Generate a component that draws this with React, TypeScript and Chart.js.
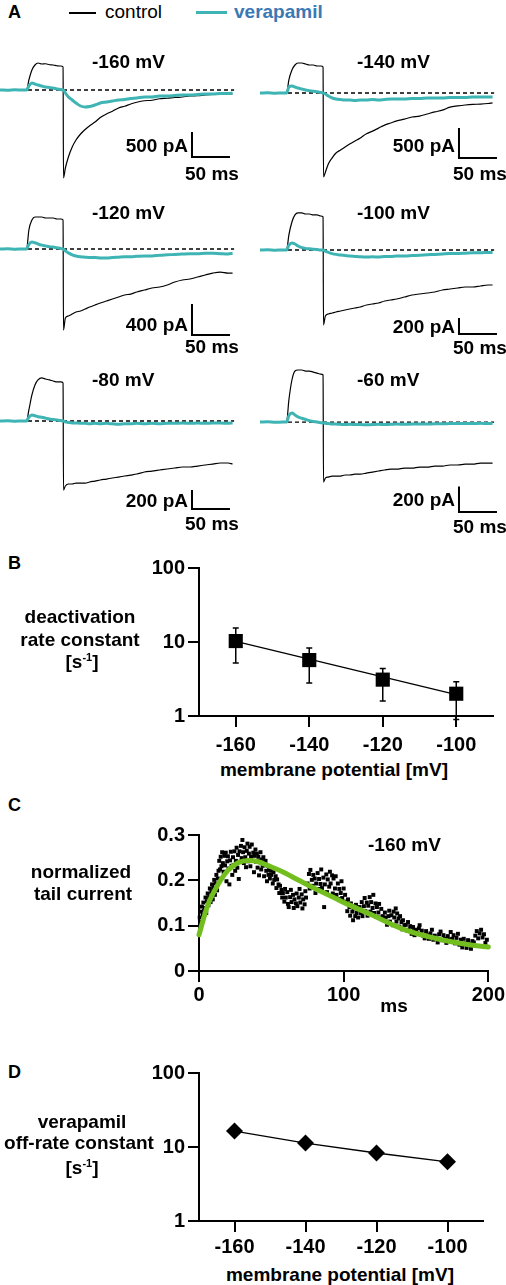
import React, { useEffect, useRef } from "react";
import { Chart, registerables } from "chart.js";

Chart.register(...registerables);

const FONT = "'Liberation Sans', Arial, Helvetica, sans-serif";
Chart.defaults.font.family = FONT;
const PAGE_W = 506;
const BLACK = "#000000";
const TEAL = "#3fb4b4";
const GREEN = "#72be1e";
const BLUE = "#3b78b4";
const TEXT_SIZE = 19;

// ---------------- Panel A : current traces (time in ms, current in pA) ----------------
const traceTime = [0, 10, 20, 30, 35, 38, 42, 46, 50, 55, 60, 65, 70, 75, 80, 83, 83.5, 86, 90, 95, 100, 106, 112, 118, 125, 132, 140, 148, 156, 164, 172, 180, 190, 200, 210, 220, 230, 240, 250, 260, 270, 280, 290, 300, 306];

const ctrl160 = [0, 6, -4, 3, 0, 200, 400, 500, 540, 520, 525, 505, 500, 485, 480, 460, -1760, -1560, -1340, -1140, -1000, -880, -790, -715, -640, -550, -480, -425, -360, -325, -280, -245, -215, -205, -175, -165, -150, -140, -120, -115, -100, -90, -85, -80, -80];
const vera160 = [0, -5, 4, 0, 0, 80, 140, 120, 100, 80, 60, 50, 40, 20, 10, 0, 0, -60, -140, -200, -260, -320, -340, -330, -300, -260, -240, -220, -200, -190, -170, -160, -140, -140, -120, -120, -110, -100, -100, -90, -80, -80, -70, -70, -60];
const ctrl140 = [0, 5, -3, 2, 0, 217, 383, 467, 500, 500, 483, 467, 467, 450, 450, 433, -1400, -1320, -1180, -1080, -1000, -950, -900, -850, -800, -750, -680, -635, -585, -535, -500, -465, -435, -400, -385, -350, -315, -285, -235, -215, -200, -190, -185, -175, -165];
const vera140 = [0, 4, -3, 0, 0, 100, 117, 100, 83, 67, 50, 40, 30, 20, 10, 0, 0, -17, -50, -83, -100, -110, -117, -117, -125, -117, -117, -108, -117, -108, -100, -100, -100, -92, -92, -83, -83, -83, -75, -75, -75, -67, -67, -67, -67];
const ctrl120 = [0, 4, -3, 2, 0, 245, 374, 413, 413, 413, 400, 400, 400, 387, 387, 374, -1045, -890, -864, -839, -813, -800, -774, -748, -722, -697, -671, -645, -619, -593, -581, -555, -529, -503, -490, -464, -426, -400, -387, -361, -335, -310, -297, -310, -310];
const vera120 = [0, 3, -3, 0, 0, 60, 90, 80, 65, 50, 40, 30, 25, 15, 8, 0, 0, -25, -50, -75, -90, -100, -105, -110, -110, -115, -116, -110, -105, -100, -100, -95, -90, -90, -80, -75, -70, -65, -60, -60, -55, -55, -60, -65, -55];
const ctrl100 = [0, 3, -2, 2, 0, 188, 350, 438, 463, 463, 450, 450, 438, 438, 425, 413, -938, -825, -800, -788, -775, -763, -750, -738, -725, -713, -688, -675, -663, -638, -625, -613, -588, -563, -550, -538, -525, -500, -488, -475, -463, -463, -450, -438, -438];
const vera100 = [0, 3, -2, 0, 0, 60, 88, 75, 50, 30, 20, 15, 10, 5, 0, 0, 0, -15, -30, -45, -55, -63, -70, -75, -80, -85, -88, -85, -88, -80, -80, -75, -75, -70, -65, -60, -55, -50, -45, -45, -40, -35, -35, -30, -30];
const ctrl80 = [0, 3, -2, 2, 0, 116, 274, 379, 432, 453, 442, 432, 421, 411, 411, 400, -727, -684, -663, -663, -653, -653, -653, -642, -632, -621, -611, -600, -590, -579, -569, -558, -537, -527, -516, -505, -495, -484, -484, -474, -463, -453, -442, -442, -453];
const vera80 = [0, 2, -2, 0, 0, 40, 63, 55, 45, 40, 30, 20, 15, 10, 5, 0, 0, -10, -15, -20, -20, -25, -25, -30, -25, -30, -25, -30, -35, -30, -30, -25, -30, -25, -30, -25, -25, -20, -25, -20, -25, -20, -20, -25, -20];
const ctrl60 = [0, 2, -2, 1, 0, 172, 328, 398, 406, 406, 398, 398, 390, 382, 374, 367, -468, -437, -429, -421, -421, -421, -413, -413, -406, -406, -398, -390, -382, -374, -367, -367, -359, -359, -351, -351, -343, -343, -335, -335, -328, -328, -320, -320, -320];
const vera60 = [0, 2, -2, 0, 0, 50, 70, 55, 40, 30, 20, 10, 5, 0, -5, -5, -5, -10, -12, -15, -15, -18, -20, -18, -20, -20, -22, -20, -18, -20, -18, -16, -18, -15, -15, -15, -14, -14, -12, -12, -12, -12, -10, -12, -10];

const stepVoltages = ["-160 mV", "-140 mV", "-120 mV", "-100 mV", "-80 mV", "-60 mV"];
const controlTraces = [ctrl160, ctrl140, ctrl120, ctrl100, ctrl80, ctrl60];
const verapamilTraces = [vera160, vera140, vera120, vera100, vera80, vera60];
const scaleBarCurrent = [500, 500, 400, 200, 200, 200];
const scaleBarTime = 50;
const baselineEnd = 308;

// layout of panel A (canvas boxes, axis ranges, scale-bar anchors, label spots)
const traceLayout = [
  { left: 0, top: 50, height: 140, yMin: -2000, yMax: 800, barT: 252.6, barI: -1340, vX: 92, vY: 60.5, pX: 188, pY: 145, mX: 185, mY: 172.5 },
  { left: 260, top: 50, height: 140, yMin: -1617, yMax: 717, barT: 261.8, barI: -1083, vX: 357, vY: 60.5, pX: 455, pY: 145, mX: 453, mY: 172.5 },
  { left: 0, top: 200, height: 145, yMin: -1238, yMax: 632, barT: 252.6, barI: -1109, vX: 92, vY: 211.5, pX: 188, pY: 323.5, mX: 185, mY: 345.5 },
  { left: 260, top: 200, height: 145, yMin: -1188, yMax: 625, barT: 261.8, barI: -1050, vX: 357, vY: 211.5, pX: 455, pY: 326, mX: 453, mY: 346.5 },
  { left: 0, top: 360, height: 160, yMin: -1042, yMax: 642, barT: 252.6, barI: -927, vX: 92, vY: 379, pX: 188, pY: 500, mX: 185, mY: 522.5 },
  { left: 260, top: 350, height: 170, yMin: -764, yMax: 562, barT: 261.8, barI: -702, vX: 357, vY: 379, pX: 455, pY: 498.5, mX: 453, mY: 525.5 },
];
const TRACE_W = 242;
const TRACE_TMAX = 318.4;

// ---------------- Panel B ----------------
const bPotential = [-160, -140, -120, -100];
const bRate = [10.3, 5.7, 3.1, 2.0];
const bErrHigh = [15.5, 8.3, 4.4, 2.9];
const bErrLow = [5.2, 2.8, 1.6, 0.9];
const bFitPotential = [-160, -100];
const bFitRate = [10.2, 1.95];

// ---------------- Panel C ----------------
const cTime = [
  0.5, 1, 1.5, 2, 2.5, 3, 3.5, 4, 4.5, 5, 5.5, 6, 6.5, 7, 7.5, 8, 8.5, 9, 9.5, 10, 10.5, 11, 11.5, 12, 12.5, 13, 13.5,
  14, 14.5, 15, 15.5, 16, 16.5, 17, 17.5, 18, 18.5, 19, 19.5, 20, 20.5, 21, 21.5, 22, 22.5,
  23, 23.5, 24, 24.5, 25, 25.5, 26, 26.5, 27, 27.5, 28, 28.5, 29, 29.5, 30, 30.5, 31, 31.5, 32, 32.5, 33, 33.5, 34, 34.5, 35, 35.5, 36, 36.5, 37, 37.5, 38, 38.5,
  39, 39.5, 40, 40.5, 41, 41.5, 42, 42.5, 43, 43.5, 44, 44.5, 45, 45.5, 46, 46.5, 47, 47.5, 48, 48.5,
  49, 49.5, 50, 51, 51.5, 52, 53, 53.5, 54, 55, 55.5, 56, 57, 57.5,
  58, 59, 59.5, 60, 61, 61.5, 62, 63, 63.5, 64, 65, 65.5, 66, 67, 67.5, 68, 69, 69.5, 70, 71, 71.5, 72, 73, 73.5,
  74, 75, 76, 76.5, 77, 78, 78.5, 79, 80, 80.5, 81, 82, 82.5, 83, 84, 84.5, 85, 86, 86.5, 87, 88, 88.5, 89, 90, 90.5, 91, 92, 92.5, 93, 94, 94.5, 95, 96, 96.5, 97, 98, 98.5, 99, 100, 100.5,
  101, 102, 102.5, 103, 104, 104.5, 105, 106, 106.5, 107, 108, 108.5, 109, 110,
  111, 112, 112.5, 113, 114, 114.5, 115, 116, 116.5, 117, 118, 118.5, 119, 120, 120.5, 121, 122, 122.5, 123, 124, 124.5, 125, 126,
  127, 128, 128.5, 129, 130, 131, 131.5, 132, 133, 134, 134.5, 135, 136, 136.5, 137, 138, 138.5, 139, 140, 140.5, 141, 142,
  143, 144, 144.5, 145, 146, 147, 148, 148.5, 149, 150, 151, 152, 152.5, 153, 154, 155, 156,
  157, 158, 159, 160, 161, 162, 163, 164, 165, 166, 167, 168, 169, 170, 171, 172, 173, 174,
  175, 176, 177, 178, 179, 180, 181, 182, 183, 184, 185, 186, 187, 188, 189, 190, 191, 192, 193, 194, 195, 196, 197, 198, 199,
];
const cValue = [
  0.118, 0.131, 0.108, 0.142, 0.124, 0.151, 0.133, 0.139, 0.162, 0.128, 0.154, 0.171, 0.145, 0.163, 0.182, 0.152, 0.174, 0.191, 0.158, 0.183, 0.201, 0.168, 0.193, 0.212, 0.178, 0.204, 0.221,
  0.243, 0.224, 0.252, 0.231, 0.262, 0.238, 0.219, 0.254, 0.233, 0.261, 0.198, 0.242, 0.253, 0.226, 0.191, 0.244, 0.263, 0.232,
  0.212, 0.251, 0.234, 0.264, 0.221, 0.243, 0.272, 0.228, 0.256, 0.203, 0.264, 0.241, 0.276, 0.249, 0.289, 0.262, 0.238, 0.273, 0.251, 0.229, 0.265, 0.281, 0.242, 0.259, 0.274, 0.231, 0.252, 0.279, 0.243, 0.261, 0.218, 0.254,
  0.268, 0.241, 0.259, 0.228, 0.252, 0.211, 0.243, 0.262, 0.224, 0.246, 0.232, 0.251, 0.209, 0.234, 0.243, 0.221, 0.198, 0.232, 0.212, 0.223,
  0.204, 0.221, 0.212, 0.193, 0.218, 0.201, 0.209, 0.183, 0.202, 0.191, 0.172, 0.188, 0.179, 0.162,
  0.172, 0.153, 0.181, 0.162, 0.174, 0.148, 0.141, 0.163, 0.179, 0.152, 0.168, 0.139, 0.158, 0.149, 0.171, 0.143, 0.162, 0.181, 0.151, 0.169, 0.138, 0.158, 0.147, 0.176,
  0.162, 0.193, 0.214, 0.182, 0.223, 0.201, 0.188, 0.212, 0.204, 0.172, 0.193, 0.216, 0.181, 0.203, 0.192, 0.224, 0.183, 0.206, 0.141, 0.191, 0.213, 0.174, 0.202, 0.186, 0.219, 0.193, 0.211, 0.171, 0.204, 0.182, 0.209, 0.168, 0.193, 0.159, 0.181, 0.172, 0.198, 0.161, 0.182, 0.153,
  0.168, 0.151, 0.132, 0.158, 0.141, 0.122, 0.149, 0.131, 0.112, 0.138, 0.121, 0.146, 0.128, 0.118,
  0.141, 0.128, 0.152, 0.121, 0.143, 0.161, 0.132, 0.151, 0.122, 0.144, 0.163, 0.131, 0.152, 0.139, 0.168, 0.128, 0.149, 0.119, 0.141, 0.129, 0.148, 0.118, 0.137,
  0.121, 0.112, 0.129, 0.118, 0.102, 0.121, 0.133, 0.109, 0.123, 0.101, 0.131, 0.118, 0.138, 0.109, 0.127, 0.116, 0.098, 0.121, 0.108, 0.092, 0.112, 0.101,
  0.102, 0.089, 0.108, 0.091, 0.099, 0.082, 0.097, 0.088, 0.079, 0.091, 0.083, 0.094, 0.101, 0.081, 0.089, 0.078, 0.072,
  0.088, 0.079, 0.071, 0.083, 0.091, 0.069, 0.078, 0.072, 0.063, 0.081, 0.087, 0.068, 0.079, 0.071, 0.062, 0.077, 0.069, 0.086,
  0.071, 0.079, 0.061, 0.073, 0.082, 0.058, 0.069, 0.052, 0.071, 0.061, 0.051, 0.068, 0.059, 0.049, 0.066, 0.063, 0.078, 0.088, 0.072, 0.083, 0.091, 0.074, 0.081, 0.062, 0.069,
];
const cFitTime = [0, 6, 13, 20, 27, 34, 41, 48, 57, 69, 80, 92, 103, 120, 143, 166, 189, 200];
const cFitValue = [0.08, 0.145, 0.19, 0.222, 0.239, 0.244, 0.241, 0.232, 0.22, 0.2, 0.182, 0.164, 0.147, 0.123, 0.09, 0.07, 0.057, 0.053];

// ---------------- Panel D ----------------
const dPotential = [-160, -140, -120, -100];
const dRate = [16.4, 11.3, 8.3, 6.3];

// ticks
const potentialTicks = [-160, -140, -120, -100];
const rateTicks = [1, 10, 100];
const cYTicks = [0, 0.1, 0.2, 0.3];
const cXTicks = [0, 100, 200];

const tickFont = { family: FONT, size: 20, weight: "bold" as const };

function baseOptions() {
  return {
    responsive: false,
    animation: false as const,
    devicePixelRatio: 1,
    events: [] as any[],
    plugins: { legend: { display: false }, tooltip: { enabled: false } },
  };
}

function traceConfig(i: number): any {
  const L = traceLayout[i];
  const ctrl = controlTraces[i];
  const vera = verapamilTraces[i];
  const amp = scaleBarCurrent[i];
  return {
    type: "line",
    data: {
      datasets: [
        {
          data: traceTime.map((t, k) => ({ x: t, y: vera[k] })),
          borderColor: TEAL, borderWidth: 3, pointRadius: 0, cubicInterpolationMode: "monotone", clip: false,
        },
        {
          data: traceTime.map((t, k) => ({ x: t, y: ctrl[k] })),
          borderColor: BLACK, borderWidth: 1.2, pointRadius: 0, cubicInterpolationMode: "monotone", clip: false,
        },
        {
          data: [{ x: 0, y: 0 }, { x: baselineEnd, y: 0 }],
          borderColor: BLACK, borderWidth: 1.3, borderDash: [4, 3], pointRadius: 0, clip: false,
        },
        {
          data: [
            { x: L.barT, y: L.barI + amp },
            { x: L.barT, y: L.barI },
            { x: L.barT + scaleBarTime, y: L.barI },
          ],
          borderColor: BLACK, borderWidth: 2, pointRadius: 0, clip: false,
        },
      ],
    },
    options: {
      ...baseOptions(),
      layout: { padding: 0 },
      scales: {
        x: { type: "linear", min: 0, max: TRACE_TMAX, display: false },
        y: { type: "linear", min: L.yMin, max: L.yMax, display: false },
      },
    },
  };
}

function axisCommon(tickLength: number, padding: number) {
  return {
    ticks: { font: tickFont, color: BLACK, padding, autoSkip: false, maxRotation: 0 },
    grid: { drawOnChartArea: false, drawTicks: true, tickLength, color: BLACK, lineWidth: 2 },
    border: { display: true, color: BLACK, width: 2 },
  };
}

function potentialAxis(xPad: number) {
  const c = axisCommon(11, xPad);
  return {
    type: "linear", min: -170, max: -90,
    afterBuildTicks: (s: any) => { s.ticks = potentialTicks.map((v) => ({ value: v })); },
    afterFit: (s: any) => { s.height = 40; },
    ...c,
    ticks: { ...c.ticks, callback: (v: any) => String(v) },
  };
}

function rateAxis() {
  const c = axisCommon(11, 3);
  return {
    type: "logarithmic", min: 1, max: 100,
    afterBuildTicks: (s: any) => { s.ticks = rateTicks.map((v) => ({ value: v })); },
    afterFit: (s: any) => { s.width = 99; },
    ...c,
    ticks: { ...c.ticks, callback: (v: any) => String(v) },
  };
}

const errorBarPlugin = {
  id: "errorBars",
  afterDatasetsDraw(chart: any) {
    const { ctx, scales } = chart;
    const x = scales.x, y = scales.y;
    ctx.save();
    ctx.strokeStyle = BLACK;
    ctx.lineWidth = 1.5;
    bPotential.forEach((p, i) => {
      const px = x.getPixelForValue(p);
      const top = y.getPixelForValue(bErrHigh[i]);
      const bot = y.getPixelForValue(bErrLow[i]);
      ctx.beginPath();
      ctx.moveTo(px, top); ctx.lineTo(px, bot);
      ctx.moveTo(px - 3, top); ctx.lineTo(px + 3, top);
      ctx.moveTo(px - 3, bot); ctx.lineTo(px + 3, bot);
      ctx.stroke();
    });
    ctx.restore();
  },
};

function configB(): any {
  return {
    type: "scatter",
    data: {
      datasets: [
        {
          data: bPotential.map((p, i) => ({ x: p, y: bRate[i] })),
          pointStyle: "rect", pointRadius: 10, backgroundColor: BLACK, borderColor: BLACK, borderWidth: 0, showLine: false, clip: false,
        },
        {
          data: bFitPotential.map((p, i) => ({ x: p, y: bFitRate[i] })),
          showLine: true, borderColor: BLACK, borderWidth: 1.3, pointRadius: 0, clip: false,
        },
      ],
    },
    options: {
      ...baseOptions(),
      layout: { padding: { left: 0, top: 18, right: 13, bottom: 0 } },
      scales: { x: potentialAxis(6), y: rateAxis() },
    },
    plugins: [errorBarPlugin],
  };
}

function configC(): any {
  const cx = axisCommon(11, 1);
  const cy = axisCommon(11, 3);
  return {
    type: "scatter",
    data: {
      datasets: [
        {
          data: cFitTime.map((t, i) => ({ x: t, y: cFitValue[i] })),
          showLine: true, borderColor: GREEN, borderWidth: 5, pointRadius: 0, cubicInterpolationMode: "monotone", borderCapStyle: "round", clip: false,
        },
        {
          data: cTime.map((t, i) => ({ x: t, y: cValue[i] })),
          showLine: false, pointStyle: "rect", pointRadius: 2.8, backgroundColor: BLACK, borderWidth: 0, clip: false,
        },
      ],
    },
    options: {
      ...baseOptions(),
      layout: { padding: { left: 0, top: 14, right: 17, bottom: 0 } },
      scales: {
        x: {
          type: "linear", min: 0, max: 200,
          afterBuildTicks: (s: any) => { s.ticks = cXTicks.map((v) => ({ value: v })); },
          afterFit: (s: any) => { s.height = 35; },
          ...cx,
          ticks: { ...cx.ticks, callback: (v: any) => String(v) },
        },
        y: {
          type: "linear", min: 0, max: 0.3,
          afterBuildTicks: (s: any) => { s.ticks = cYTicks.map((v) => ({ value: v })); },
          afterFit: (s: any) => { s.width = 99; },
          ...cy,
          ticks: { ...cy.ticks, callback: (v: any) => (Number(v) === 0 ? "0" : Number(v).toFixed(1)) },
        },
      },
    },
  };
}

function configD(): any {
  return {
    type: "scatter",
    data: {
      datasets: [
        {
          data: dPotential.map((p, i) => ({ x: p, y: dRate[i] })),
          showLine: true, borderColor: BLACK, borderWidth: 1.3,
          pointStyle: "rectRot", pointRadius: 8.5, backgroundColor: BLACK, pointBorderWidth: 0, clip: false,
        },
      ],
    },
    options: {
      ...baseOptions(),
      layout: { padding: { left: 0, top: 18, right: 23, bottom: 0 } },
      scales: { x: potentialAxis(3), y: rateAxis() },
    },
  };
}

type Box = { left: number; top: number; width: number; height: number };

function ChartCanvas({ box, make }: { box: Box; make: () => any }) {
  const ref = useRef<HTMLCanvasElement | null>(null);
  useEffect(() => {
    if (!ref.current) return;
    const chart = new Chart(ref.current, make());
    return () => chart.destroy();
  }, []);
  return (
    <canvas
      ref={ref}
      width={box.width}
      height={box.height}
      style={{ position: "absolute", left: box.left, top: box.top, width: box.width, height: box.height, display: "block" }}
    />
  );
}

type LabelProps = {
  x: number; y: number; align?: "left" | "right" | "center"; size?: number; bold?: boolean; color?: string; children: React.ReactNode;
};

function Label({ x, y, align = "left", size = TEXT_SIZE, bold = true, color = BLACK, children }: LabelProps) {
  const style: React.CSSProperties = {
    position: "absolute", top: y, fontFamily: FONT, fontSize: size, fontWeight: bold ? 700 : 400,
    color, lineHeight: 1, whiteSpace: "nowrap",
  };
  if (align === "left") { style.left = x; style.transform = "translateY(-50%)"; }
  else if (align === "right") { style.right = PAGE_W - x; style.transform = "translateY(-50%)"; }
  else { style.left = x; style.transform = "translate(-50%, -50%)"; }
  return <div style={style}>{children}</div>;
}

function PerSecond() {
  return (
    <span>
      [s<span style={{ fontSize: 11, position: "relative", top: -7 }}>-1</span>]
    </span>
  );
}

export default function App() {
  return (
    <div style={{ position: "absolute", left: 0, top: 0, width: PAGE_W, height: 1285, background: "#fff", overflow: "hidden" }}>
      {traceLayout.map((L, i) => (
        <ChartCanvas key={i} box={{ left: L.left, top: L.top, width: TRACE_W, height: L.height }} make={() => traceConfig(i)} />
      ))}
      <ChartCanvas box={{ left: 100, top: 550, width: 406, height: 206 }} make={configB} />
      <ChartCanvas box={{ left: 100, top: 820, width: 406, height: 186 }} make={configC} />
      <ChartCanvas box={{ left: 100, top: 1055, width: 406, height: 206 }} make={configD} />

      {/* Panel A legend */}
      <Label x={8} y={12} size={18}>A</Label>
      <div style={{ position: "absolute", left: 69, top: 12, width: 27, height: 2, background: BLACK }} />
      <Label x={105} y={11} bold={false}>control</Label>
      <div style={{ position: "absolute", left: 196, top: 11, width: 31, height: 3, background: TEAL }} />
      <Label x={234} y={11} color={BLUE}>verapamil</Label>

      {traceLayout.map((L, i) => (
        <React.Fragment key={"t" + i}>
          <Label x={L.vX} y={L.vY}>{stepVoltages[i]}</Label>
          <Label x={L.pX} y={L.pY} align="right">{`${scaleBarCurrent[i]} pA`}</Label>
          <Label x={L.mX} y={L.mY}>{`${scaleBarTime} ms`}</Label>
        </React.Fragment>
      ))}

      {/* Panel B */}
      <Label x={8} y={563} size={18}>B</Label>
      <Label x={80} y={616} align="center">deactivation</Label>
      <Label x={80} y={639} align="center">rate constant</Label>
      <Label x={82} y={661} align="center"><PerSecond /></Label>
      <Label x={334} y={769} align="center">membrane potential [mV]</Label>

      {/* Panel C */}
      <Label x={8} y={805} size={18}>C</Label>
      <Label x={81} y={871} align="center">normalized</Label>
      <Label x={83} y={892.5} align="center">tail current</Label>
      <Label x={368} y={844}>-160 mV</Label>
      <Label x={394} y={1005} align="center">ms</Label>

      {/* Panel D */}
      <Label x={8} y={1072} size={18}>D</Label>
      <Label x={82} y={1121} align="center">verapamil</Label>
      <Label x={79} y={1142} align="center">off-rate constant</Label>
      <Label x={82} y={1167} align="center"><PerSecond /></Label>
      <Label x={340} y={1274} align="center">membrane potential [mV]</Label>
    </div>
  );
}
